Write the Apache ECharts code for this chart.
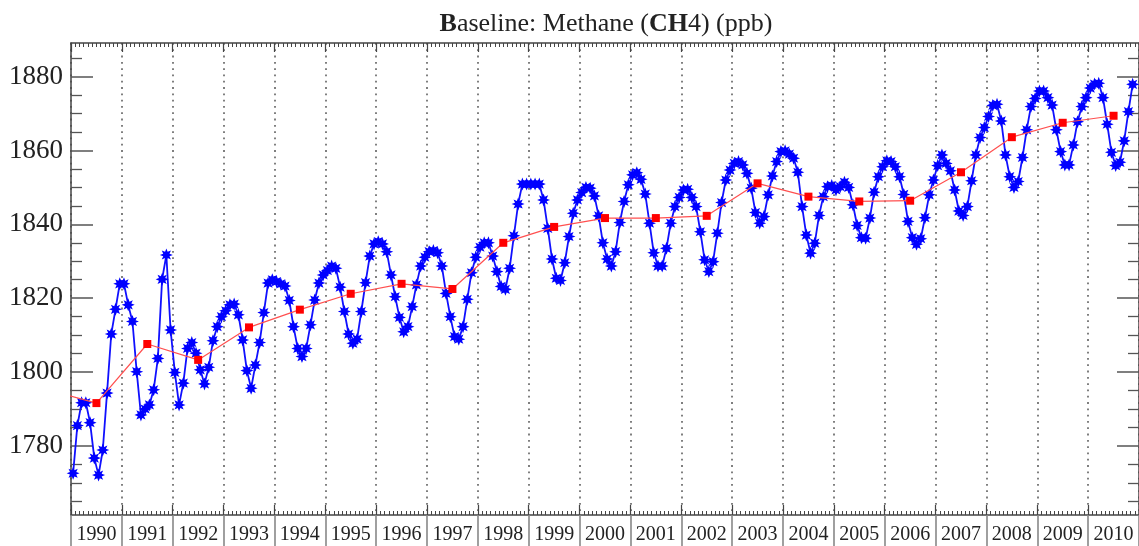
<!DOCTYPE html>
<html>
<head>
<meta charset="utf-8">
<title>Baseline: Methane (CH4) (ppb)</title>
<script src="https://cdn.jsdelivr.net/npm/echarts@6/dist/echarts.min.js"></script>
<style>
  html, body { margin: 0; padding: 0; background: #ffffff; }
  #chart { width: 1139px; height: 546px; }
</style>
</head>
<body>
<div id="chart"></div>
<script>
// Monthly baseline CH4 (ppb), January 1990 onward, one row per year
const firstYear = 1990;
const monthlyCH4 = [
  1772.6, 1785.5, 1791.7, 1791.7, 1786.3, 1776.7, 1772.1, 1778.9, 1794.3, 1810.3, 1817.0, 1823.9,
  1823.9, 1818.2, 1813.7, 1800.1, 1788.4, 1790.0, 1791.1, 1795.2, 1803.7, 1825.1, 1831.7, 1811.4,
  1799.9, 1791.1, 1797.0, 1806.4, 1808.0, 1805.1, 1800.6, 1796.8, 1801.3, 1808.5, 1812.3, 1815.0,
  1816.6, 1818.2, 1818.4, 1815.5, 1808.7, 1800.4, 1795.6, 1801.9, 1808.0, 1816.1, 1824.1, 1825.0,
  1824.5, 1823.9, 1823.3, 1819.4, 1812.3, 1806.4, 1804.2, 1806.4, 1812.8, 1819.5, 1824.1, 1826.3,
  1827.5, 1828.7, 1828.1, 1823.0, 1816.4, 1810.3, 1807.8, 1808.9, 1816.4, 1824.2, 1831.4, 1834.7,
  1835.3, 1834.7, 1832.6, 1826.3, 1820.4, 1814.8, 1810.9, 1812.3, 1817.7, 1823.6, 1828.7, 1831.1,
  1832.6, 1832.9, 1832.3, 1828.7, 1821.3, 1815.0, 1809.6, 1808.9, 1812.3, 1819.7, 1826.9, 1831.1,
  1833.8, 1835.0, 1835.0, 1831.4, 1827.2, 1823.2, 1822.4, 1828.1, 1836.9, 1845.5, 1850.9, 1850.9,
  1850.9, 1850.9, 1850.9, 1846.6, 1838.9, 1830.6, 1825.4, 1824.8, 1829.6, 1836.7, 1843.0, 1846.6,
  1848.6, 1850.0, 1849.8, 1847.7, 1842.3, 1835.0, 1830.6, 1828.7, 1832.6, 1840.5, 1846.2, 1850.7,
  1853.4, 1854.0, 1852.2, 1848.2, 1840.3, 1832.3, 1828.7, 1828.7, 1833.5, 1840.3, 1844.8, 1847.3,
  1849.3, 1849.5, 1847.3, 1844.8, 1838.0, 1830.4, 1827.2, 1829.9, 1837.6, 1845.9, 1852.0, 1854.7,
  1856.5, 1857.0, 1856.1, 1853.8, 1849.8, 1843.2, 1840.3, 1842.1, 1848.0, 1853.1, 1857.0, 1859.7,
  1859.9, 1859.0, 1857.9, 1854.1, 1844.8, 1837.1, 1832.2, 1834.9, 1842.4, 1847.5, 1850.2, 1850.5,
  1849.3, 1850.2, 1851.4, 1850.0, 1845.3, 1839.7, 1836.4, 1836.2, 1841.7, 1848.7, 1852.9, 1855.6,
  1857.2, 1857.0, 1855.6, 1852.9, 1848.1, 1840.8, 1836.4, 1834.6, 1836.1, 1841.8, 1848.0, 1852.0,
  1855.9, 1858.8, 1856.5, 1854.5, 1849.3, 1843.6, 1842.4, 1844.8, 1851.8, 1858.8, 1863.5, 1866.2,
  1869.2, 1872.2, 1872.5, 1868.0, 1858.8, 1852.9, 1850.0, 1851.6, 1858.1, 1865.6, 1871.9, 1874.1,
  1876.1, 1876.1, 1874.3, 1872.3, 1865.6, 1859.7, 1856.1, 1856.1, 1861.5, 1867.8, 1871.9, 1874.3,
  1876.9, 1878.0, 1878.2, 1874.3, 1867.1, 1859.5, 1855.9, 1856.8, 1862.6, 1870.5, 1877.9
];

// Annual means (ppb), plotted at mid-year
const annualYears = [1989, 1990, 1991, 1992, 1993, 1994, 1995, 1996, 1997, 1998, 1999,
                     2000, 2001, 2002, 2003, 2004, 2005, 2006, 2007, 2008, 2009, 2010];
const annualMeanCH4 = [1795.3, 1791.6, 1807.6, 1803.3, 1812.1, 1816.9, 1821.2, 1823.9, 1822.5, 1835.0, 1839.3,
                       1841.7, 1841.7, 1842.3, 1851.1, 1847.5, 1846.2, 1846.4, 1854.1, 1863.6, 1867.5, 1869.4];

// Axis tick values
const yearLabels = ['1990', '1991', '1992', '1993', '1994', '1995', '1996', '1997', '1998', '1999', '2000',
                    '2001', '2002', '2003', '2004', '2005', '2006', '2007', '2008', '2009', '2010'];
const yMajorTicks = [1780, 1800, 1820, 1840, 1860, 1880];
const yMinorTicks = [1765, 1770, 1775, 1785, 1790, 1795, 1805, 1810, 1815, 1825, 1830, 1835,
                     1845, 1850, 1855, 1865, 1870, 1875, 1885];

const X_MIN = 1990, X_MAX = 2011;
const Y_MIN = 1761.3, Y_MAX = 1889.1;

// Eight-spike asterisk used as the monthly marker
function asteriskPath(spikes, inner) {
  let d = '';
  for (let k = 0; k < spikes * 2; k++) {
    const a = k * Math.PI / spikes - Math.PI / 2;
    const r = (k % 2) ? inner : 10;
    const x = (10 + r * Math.cos(a)).toFixed(2);
    const y = (10 + r * Math.sin(a)).toFixed(2);
    d += (k ? 'L' : 'M') + x + ' ' + y + ' ';
  }
  return 'path://' + d + 'Z';
}

const monthlyPoints = monthlyCH4.map((v, i) => [firstYear + (i + 0.5) / 12, v]);
const annualPoints = annualMeanCH4.map((v, i) => [annualYears[i] + 0.5, v]);
const labelPositions = yearLabels.map(s => Number(s) + 0.5);

const serif = 'Liberation Serif';
const axisColor = '#444';

const chart = echarts.init(document.getElementById('chart'), null, { renderer: 'canvas' });

chart.setOption({
  backgroundColor: '#ffffff',
  animation: false,
  title: {
    text: '{b|B}aseline: Methane ({b|CH}4) (ppb)',
    left: 601,
    top: 6,
    textAlign: 'center',
    textStyle: {
      fontFamily: serif, fontSize: 26, fontWeight: 'normal', color: '#222',
      rich: { b: { fontFamily: serif, fontSize: 26, fontWeight: 'bold', color: '#222' } }
    }
  },
  grid: { left: 71, right: -4.5, top: 43, bottom: 31, containLabel: false },
  xAxis: [
    { // bottom frame: inward year ticks, monthly minor ticks, dotted year grid
      type: 'value', position: 'bottom', min: X_MIN, max: X_MAX, interval: 1,
      axisLine: { show: true, onZero: false, lineStyle: { color: axisColor, width: 1.5 } },
      axisTick: { show: true, inside: true, length: 10, lineStyle: { color: axisColor, width: 1.2 } },
      minorTick: { show: true, splitNumber: 12, length: 4, lineStyle: { color: axisColor, width: 1 } },
      axisLabel: { show: false },
      splitLine: { show: true, lineStyle: { color: '#555', width: 1.5, type: [1.8, 4.5] } }
    },
    { // bottom: long outward year ticks and centred year labels
      type: 'value', position: 'bottom', min: X_MIN, max: X_MAX, interval: 1,
      axisLine: { show: false, onZero: false },
      axisTick: { show: true, inside: false, length: 34, lineStyle: { color: '#888', width: 1.6 } },
      axisLabel: {
        show: true, customValues: labelPositions, margin: 10,
        fontFamily: serif, fontSize: 20, color: '#222',
        formatter: v => yearLabels[Math.round(v - 0.5) - X_MIN]
      },
      splitLine: { show: false }
    },
    { // top frame
      type: 'value', position: 'top', min: X_MIN, max: X_MAX, interval: 1,
      axisLine: { show: true, onZero: false, lineStyle: { color: axisColor, width: 1.5 } },
      axisTick: { show: true, inside: true, length: 9, lineStyle: { color: axisColor, width: 1.2 } },
      minorTick: { show: true, splitNumber: 12, length: 4, lineStyle: { color: axisColor, width: 1 } },
      axisLabel: { show: false },
      splitLine: { show: false }
    }
  ],
  yAxis: [
    { // left: major ticks and labels
      type: 'value', position: 'left', min: Y_MIN, max: Y_MAX,
      axisLine: { show: true, onZero: false, lineStyle: { color: axisColor, width: 1.5 } },
      axisTick: { show: true, inside: true, length: 22, customValues: yMajorTicks,
                  lineStyle: { color: '#555', width: 1.5 } },
      axisLabel: { show: true, customValues: yMajorTicks, margin: 8,
                   fontFamily: serif, fontSize: 27, color: '#222',
                   formatter: v => String(Math.round(v)) },
      splitLine: { show: false }
    },
    { // left: minor ticks every 5 ppb
      type: 'value', position: 'left', min: Y_MIN, max: Y_MAX,
      axisLine: { show: false, onZero: false },
      axisTick: { show: true, inside: true, length: 11, customValues: yMinorTicks,
                  lineStyle: { color: '#555', width: 1.3 } },
      axisLabel: { show: false },
      splitLine: { show: false }
    },
    { // right frame: major ticks
      type: 'value', position: 'right', min: Y_MIN, max: Y_MAX,
      axisLine: { show: true, onZero: false, lineStyle: { color: axisColor, width: 1.5 } },
      axisTick: { show: true, inside: true, length: 22, customValues: yMajorTicks,
                  lineStyle: { color: '#555', width: 1.5 } },
      axisLabel: { show: false },
      splitLine: { show: false }
    },
    { // right frame: minor ticks
      type: 'value', position: 'right', min: Y_MIN, max: Y_MAX,
      axisLine: { show: false, onZero: false },
      axisTick: { show: true, inside: true, length: 11, customValues: yMinorTicks,
                  lineStyle: { color: '#555', width: 1.3 } },
      axisLabel: { show: false },
      splitLine: { show: false }
    }
  ],
  series: [
    {
      name: 'Monthly',
      type: 'line',
      xAxisIndex: 0, yAxisIndex: 0,
      data: monthlyPoints,
      clip: true,
      symbol: asteriskPath(8, 5.2),
      symbolSize: 13,
      showAllSymbol: true,
      lineStyle: { color: '#1010ff', width: 1.8 },
      itemStyle: { color: '#0000ff' },
      z: 3
    },
    {
      name: 'Annual mean',
      type: 'line',
      xAxisIndex: 0, yAxisIndex: 0,
      data: annualPoints,
      clip: true,
      symbol: 'rect',
      symbolSize: 8,
      showAllSymbol: true,
      lineStyle: { color: '#ff5050', width: 1.2 },
      itemStyle: { color: '#ff0000' },
      z: 4
    }
  ]
});
</script>
</body>
</html>
